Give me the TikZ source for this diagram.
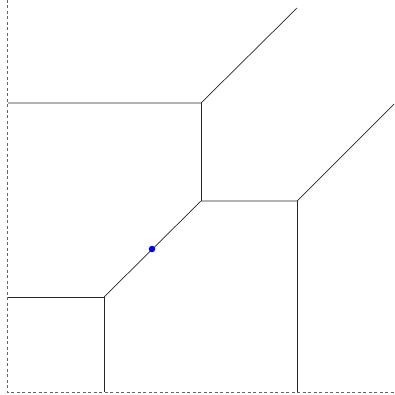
\documentclass[tikz,border=0pt]{standalone}
\begin{document}
\begin{tikzpicture}[x=1pt,y=-1pt,
  edge/.style={draw=black!85,line width=0.7pt},
  axis/.style={draw=black!60,dash pattern=on 3pt off 2.5pt,line width=0.7pt},
  site/.style={circle,fill=blue,inner sep=0pt,minimum size=6.5pt}]
\useasboundingbox (0,0) rectangle (395,395);
\coordinate (ax0) at (7,392);
\coordinate (axt) at (7,0);
\coordinate (axr) at (395,392);
\draw[axis] (axt) -- (ax0) -- (axr);
\coordinate (L1) at (8,103);
\coordinate (A) at (201,103);
\coordinate (T1) at (297,8);
\coordinate (B) at (201,201);
\coordinate (C) at (297,201);
\coordinate (T2) at (394,104);
\coordinate (Cb) at (297,392);
\coordinate (D) at (104,297);
\coordinate (L2) at (8,297);
\coordinate (Db) at (104,392);
\draw[edge] (L1) -- (A) -- (T1);
\draw[edge] (A) -- (B);
\draw[edge] (B) -- (C) -- (T2);
\draw[edge] (C) -- (Cb);
\draw[edge] (B) -- (D);
\draw[edge] (L2) -- (D) -- (Db);
\node[site] (p) at (152,249) {};
\end{tikzpicture}
\end{document}
